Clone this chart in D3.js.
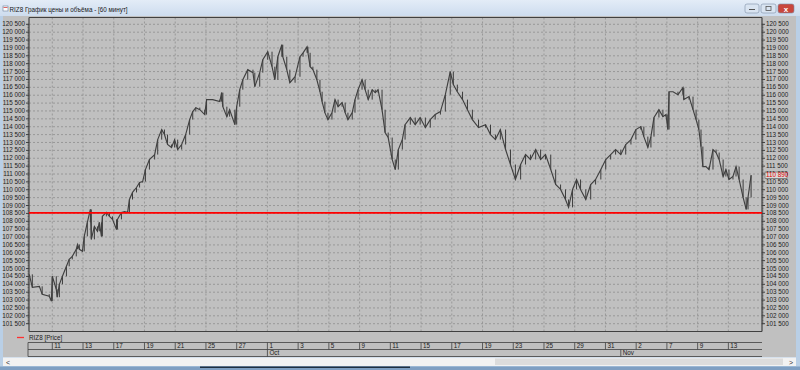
<!DOCTYPE html>
<html><head><meta charset="utf-8">
<script src="https://cdn.jsdelivr.net/npm/d3@7/dist/d3.min.js"></script>
<style>
body{margin:0;background:#c0c0c0;overflow:hidden;}
svg{display:block;font-family:"Liberation Sans",Arial,sans-serif;}
</style>
</head><body>
<svg id="c" width="800" height="370"></svg>
<script>
// ---------- DATA ----------
const windowTitle = "RIZ8 График цены и объёма - [60 минут]";
const seriesName = "RIZ8 [Price]";
const lastPrice = 110890;
const supportLevel = 108500;
const priceTicks = d3.range(101500, 120501, 500);
const dateTicks = ["11","13","17","19","21","25","27","1","3","5","9","11","15","17","19","23","25","29","31","2","7","9","13"];
const monthLabels = ["Oct","Nov"];
const monthStarts = [7, 18.5];   // position in date-tick units
// bar positions (date-tick units) and prices
const barPos = [-0.75,-0.65,-0.42,-0.33,-0.10,-0.03,0.00,0.13,0.16,0.23,0.33,0.46,0.55,0.65,0.78,0.82,0.88,0.98,1.04,1.14,1.24,1.27,1.37,1.47,1.53,1.60,1.63,1.76,1.86,1.96,2.09,2.12,2.25,2.35,2.45,2.51,2.61,2.74,2.84,2.94,3.03,3.16,3.33,3.43,3.56,3.65,3.75,3.88,3.98,4.08,4.21,4.34,4.47,4.57,4.67,4.80,4.96,5.02,5.22,5.45,5.51,5.55,5.68,5.77,5.94,6.00,6.10,6.20,6.36,6.53,6.59,6.75,6.85,7.01,7.15,7.24,7.34,7.47,7.50,7.63,7.73,7.90,8.06,8.16,8.29,8.32,8.39,8.48,8.61,8.71,8.78,8.87,8.97,9.10,9.20,9.30,9.43,9.53,9.62,9.76,9.85,9.95,10.08,10.18,10.28,10.41,10.51,10.60,10.73,10.83,10.93,11.06,11.16,11.26,11.39,11.48,11.65,11.81,11.97,12.14,12.30,12.46,12.63,12.79,12.95,13.05,13.18,13.35,13.51,13.67,13.87,14.10,14.26,14.42,14.58,14.75,14.91,15.07,15.24,15.40,15.56,15.73,15.89,16.05,16.22,16.38,16.54,16.70,16.80,16.93,17.06,17.19,17.36,17.52,17.68,17.85,18.01,18.17,18.33,18.50,18.66,18.83,18.99,19.15,19.25,19.38,19.48,19.58,19.74,19.87,19.97,20.03,20.07,20.20,20.36,20.52,20.55,20.72,20.85,20.95,21.04,21.11,21.17,21.27,21.37,21.50,21.60,21.70,21.83,21.92,22.02,22.15,22.25,22.35,22.48,22.58,22.64,22.74];
const price = [104600,103780,103840,103340,103210,102900,104480,103650,103150,103970,104480,105110,105550,105740,106190,106500,106190,106060,107010,107900,108720,106820,107640,107330,107900,107010,108280,108530,108280,108090,107450,108090,108530,108590,108530,109350,109800,110110,110430,110490,111250,111890,112200,113150,113790,113470,112840,112650,113150,112520,112840,113470,114420,114930,115180,115050,114740,115690,115690,115560,116130,115240,114610,115050,114100,115240,116320,116950,117590,117400,116510,117400,118220,118730,117780,116950,118410,119170,118410,117590,116760,117140,118410,118660,119040,118660,117780,117590,116950,116190,115560,114860,114420,114860,115690,115240,115500,114860,114420,114860,115690,116320,116950,116320,115690,116320,116130,116320,115050,113600,113280,111890,111250,112520,113150,114100,114550,114100,114550,113910,114420,114740,114930,116000,117460,116640,116190,115690,115050,114420,113910,114100,113470,113150,113790,112520,111570,110620,111570,112200,111890,112520,111890,112200,111250,110300,109990,109350,108850,109990,110620,109990,109350,110300,110620,111250,111890,112200,112520,112200,112840,113150,113790,113980,113340,112650,113340,114550,115050,114610,114740,113790,116190,116190,116000,116450,115690,115880,115050,114420,113790,112710,111440,111440,111250,112520,112330,111890,110810,111250,110620,110810,111440,110620,109480,108720,109480,110890];

// ---------- LAYOUT ----------
const svg = d3.select("#c");
const L = 29, R = 762, T = 17.5, B = 331.5;
const x = d3.scaleLinear().domain([(L-52.3)/30.73, (R-52.3)/30.73]).range([L, R]);
const y = d3.scaleLinear().domain([101500, 120500]).range([323.2, 23.8]);
const fmt = v => d3.format(",")(v).replace(/,/g, " ");
const FS = 6.3;

// window frame
svg.append("rect").attr("width",800).attr("height",370).attr("fill","#b9cfe6");
const tg = svg.append("defs").append("linearGradient").attr("id","tb").attr("x1",0).attr("x2",0).attr("y1",0).attr("y2",1);
tg.append("stop").attr("offset",0).attr("stop-color","#e3ecf7");
tg.append("stop").attr("offset",1).attr("stop-color","#cddcee");
svg.append("rect").attr("x",0).attr("y",0).attr("width",800).attr("height",16).attr("fill","url(#tb)");
svg.append("rect").attr("x",3).attr("y",16).attr("width",793).attr("height",341).attr("fill","#c0c0c0");
// title icon + text
svg.append("rect").attr("x",3).attr("y",6).attr("width",5).attr("height",5).attr("fill","#fff").attr("stroke","#6b7f99").attr("stroke-width",0.6);
svg.append("line").attr("x1",3.5).attr("x2",7.5).attr("y1",7.5).attr("y2",7.5).attr("stroke","#d04040").attr("stroke-width",0.8);
svg.append("text").attr("x",9.5).attr("y",11.5).attr("font-size",6.3).attr("fill","#1a1a1a").text(windowTitle);
// window buttons
[[745,14,"#d9e4f1"],[761,15,"#d9e4f1"],[778,16,"#c9463d"]].forEach(([bx,bw,c])=>{
  svg.append("rect").attr("x",bx).attr("y",4).attr("width",bw).attr("height",9).attr("rx",2)
    .attr("fill",c).attr("stroke","#7d8ea6").attr("stroke-width",0.6);
});
svg.append("line").attr("x1",749).attr("x2",755).attr("y1",9.5).attr("y2",9.5).attr("stroke","#555");
svg.append("rect").attr("x",766).attr("y",6.5).attr("width",5).attr("height",4).attr("fill","none").attr("stroke","#555").attr("stroke-width",0.8);
svg.append("text").attr("x",786).attr("y",11.5).attr("text-anchor","middle").attr("font-size",8).attr("fill","#fff").attr("font-weight","bold").text("x");

// grid
const grid = svg.append("g");
grid.selectAll("line.h").data(priceTicks).join("line")
  .attr("x1",L).attr("x2",R).attr("y1",d=>y(d)+0.5).attr("y2",d=>y(d)+0.5)
  .attr("stroke","#8e8e8e").attr("stroke-width",0.8).attr("stroke-dasharray","2,2");
grid.selectAll("line.v").data(dateTicks).join("line")
  .attr("x1",(d,i)=>x(i)).attr("x2",(d,i)=>x(i)).attr("y1",T).attr("y2",B)
  .attr("stroke","#8e8e8e").attr("stroke-width",0.8).attr("stroke-dasharray","2,2");

// plot frame top/bottom
svg.append("line").attr("x1",L).attr("x2",R).attr("y1",T).attr("y2",T).attr("stroke","#404040").attr("stroke-width",1);
svg.append("line").attr("x1",L).attr("x2",R).attr("y1",B).attr("y2",B).attr("stroke","#404040").attr("stroke-width",1);

// axes
function styleAxis(g){
  g.select(".domain").attr("stroke","#404040").attr("stroke-width",1.2);
  g.selectAll(".tick line").attr("stroke","#404040");
  g.selectAll("text").attr("font-size",FS).attr("fill","#202020").attr("font-family","'Liberation Sans',Arial,sans-serif");
}
const minor = d3.range(101500, 120501, 100);
const la = svg.append("g").attr("transform",`translate(${L},0)`)
  .call(d3.axisLeft(y).tickValues(priceTicks).tickSize(3).tickSizeOuter(0).tickPadding(1).tickFormat(fmt));
styleAxis(la);
la.select(".domain").attr("d",`M0,${T}V${B}`);
svg.append("g").selectAll("line").data(minor).join("line")
  .attr("x1",L).attr("x2",L-1.5).attr("y1",d=>y(d)+0.5).attr("y2",d=>y(d)+0.5).attr("stroke","#404040").attr("stroke-width",0.6);
const ra = svg.append("g").attr("transform",`translate(${R},0)`)
  .call(d3.axisRight(y).tickValues(priceTicks).tickSize(3).tickSizeOuter(0).tickPadding(1).tickFormat(fmt));
styleAxis(ra);
ra.select(".domain").attr("d",`M0,${T}V${B}`);
svg.append("g").selectAll("line").data(minor).join("line")
  .attr("x1",R).attr("x2",R+1.5).attr("y1",d=>y(d)+0.5).attr("y2",d=>y(d)+0.5).attr("stroke","#404040").attr("stroke-width",0.6);

// price series (bars joining successive prices + line)
const pts = barPos.map((p,i)=>[x(p), y(price[i])]);
svg.append("g").selectAll("line").data(pts.slice(1)).join("line")
  .attr("x1",d=>d[0]).attr("x2",d=>d[0])
  .attr("y1",(d,i)=>pts[i][1]).attr("y2",d=>d[1])
  .attr("stroke","#3c3c3c").attr("stroke-width",1);
svg.append("path").attr("d", d3.line()(pts)).attr("fill","none")
  .attr("stroke","#404040").attr("stroke-width",1.15).attr("stroke-linejoin","miter");

// support line
svg.append("line").attr("x1",L).attr("x2",R).attr("y1",y(supportLevel)).attr("y2",y(supportLevel))
  .attr("stroke","#ff0000").attr("stroke-width",1.6);

// last price label
svg.append("rect").attr("x",R+3).attr("y",y(lastPrice)-3.2).attr("width",22).attr("height",6.4)
  .attr("fill","#d8d8d8").attr("stroke","#505050").attr("stroke-width",0.6);
svg.append("text").attr("x",R+4).attr("y",y(lastPrice)+2.2).attr("font-size",FS).attr("fill","#e00000").text(fmt(lastPrice));

// legend
svg.append("line").attr("x1",17).attr("x2",24).attr("y1",337.5).attr("y2",337.5).attr("stroke","#ff3030").attr("stroke-width",1.3);
svg.append("text").attr("x",29).attr("y",339.8).attr("font-size",FS).attr("fill","#202020").text(seriesName);

// time axis boxes
const ta = svg.append("g").attr("stroke","#404040").attr("stroke-width",0.8);
[342.5,349.5,356.5].forEach(yy=>ta.append("line").attr("x1",28).attr("x2",R).attr("y1",yy).attr("y2",yy));
ta.append("line").attr("x1",28).attr("x2",28).attr("y1",342.5).attr("y2",356.5);
svg.append("g").selectAll("line").data(dateTicks).join("line")
  .attr("x1",(d,i)=>x(i)).attr("x2",(d,i)=>x(i)).attr("y1",342.5).attr("y2",349.5)
  .attr("stroke","#404040").attr("stroke-width",0.8);
svg.append("g").selectAll("text").data(dateTicks).join("text")
  .attr("x",(d,i)=>x(i)+2).attr("y",348.3).attr("font-size",FS).attr("fill","#202020").text(d=>d);
svg.append("g").selectAll("line").data(monthStarts).join("line")
  .attr("x1",d=>x(d)).attr("x2",d=>x(d)).attr("y1",349.5).attr("y2",356.5)
  .attr("stroke","#404040").attr("stroke-width",0.8);
svg.append("g").selectAll("text").data(monthLabels).join("text")
  .attr("x",(d,i)=>x(monthStarts[i])+2).attr("y",355.3).attr("font-size",FS).attr("fill","#202020").text(d=>d);

// scrollbar
svg.append("rect").attr("x",3).attr("y",357.5).attr("width",793).attr("height",8.5).attr("fill","#f2f2f2");
svg.append("rect").attr("x",495).attr("y",358.5).attr("width",288).attr("height",6.5).attr("fill","#dcdcdc");
svg.append("text").attr("x",6).attr("y",364.5).attr("font-size",7).attr("fill","#333").text("<");
svg.append("text").attr("x",789).attr("y",364.5).attr("font-size",7).attr("fill","#333").text(">");
svg.append("rect").attr("x",0).attr("y",366.5).attr("width",800).attr("height",3.5).attr("fill","#7f9fc2");
svg.append("rect").attr("x",200).attr("y",366.5).attr("width",210).attr("height",1.5).attr("fill","#1f2f40");
</script>
</body></html>
